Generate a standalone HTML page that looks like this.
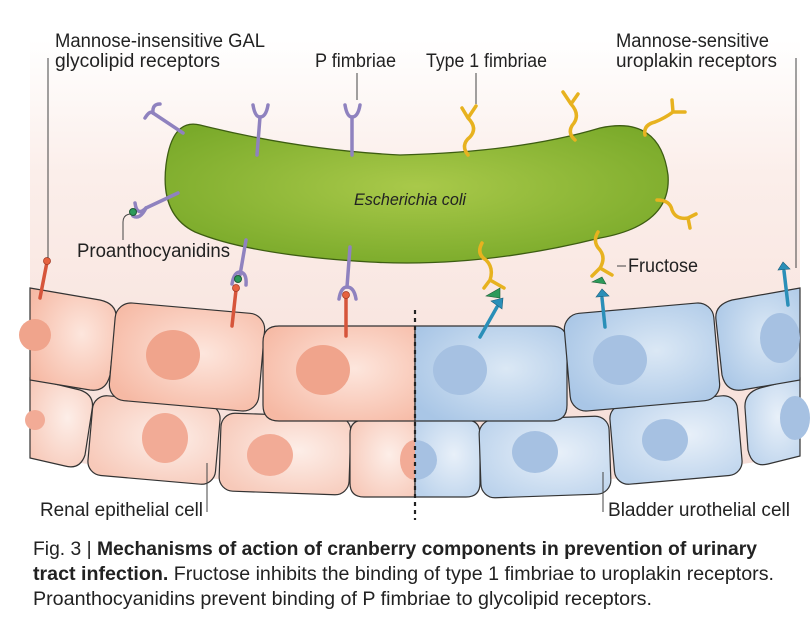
<!DOCTYPE html>
<html><head><meta charset="utf-8"><style>html,body{margin:0;padding:0;background:#fff}svg{display:block}</style></head>
<body>
<svg width="812" height="619" viewBox="0 0 812 619" xmlns="http://www.w3.org/2000/svg" font-family="Liberation Sans, sans-serif">
<defs>
<linearGradient id="bg" x1="0" y1="0" x2="0" y2="1">
<stop offset="0" stop-color="#fff"/><stop offset="0.3" stop-color="#fbeeea"/><stop offset="1" stop-color="#f6ddd6"/></linearGradient>
<radialGradient id="gr" cx="0.5" cy="0.45" r="0.6"><stop offset="0" stop-color="#a9c94a"/><stop offset="1" stop-color="#7aaa2a"/></radialGradient>
<radialGradient id="pk" cx="0.6" cy="0.45" r="0.7"><stop offset="0" stop-color="#fde6dd"/><stop offset="1" stop-color="#f6b9a4"/></radialGradient>
<radialGradient id="bl" cx="0.6" cy="0.45" r="0.7"><stop offset="0" stop-color="#dbe8f5"/><stop offset="1" stop-color="#a9c6e6"/></radialGradient>
<radialGradient id="pk2" cx="0.6" cy="0.45" r="0.7"><stop offset="0" stop-color="#fdeee8"/><stop offset="1" stop-color="#f7c9b9"/></radialGradient>
<radialGradient id="bl2" cx="0.6" cy="0.45" r="0.7"><stop offset="0" stop-color="#e8f0f9"/><stop offset="1" stop-color="#bcd3ec"/></radialGradient>
</defs>
<path d="M30 40 H800 V455 Q415 520 30 455 Z" fill="url(#bg)"/>
<!-- bottom row cells -->
<g stroke="#333" stroke-width="1.2">
<path d="M30 378 L80 390 Q95 395 92 410 L85 455 Q80 470 65 466 L30 458 Z" fill="url(#pk2)"/>
<rect x="90" y="400" width="128" height="80" rx="14" transform="rotate(5 154 440)" fill="url(#pk2)"/>
<rect x="220" y="415" width="130" height="78" rx="14" transform="rotate(2 285 454)" fill="url(#pk2)"/>
<path d="M415 420 H364 Q350 420 350 434 V483 Q350 497 364 497 H415 Z" fill="url(#pk2)"/>
<path d="M415 420 H466 Q480 420 480 434 V483 Q480 497 466 497 H415 Z" fill="url(#bl2)"/>
<rect x="480" y="418" width="130" height="78" rx="14" transform="rotate(-2 545 457)" fill="url(#bl2)"/>
<rect x="612" y="400" width="128" height="80" rx="14" transform="rotate(-5 676 440)" fill="url(#bl2)"/>
<path d="M800 378 L760 388 Q744 393 745 408 L748 450 Q752 468 768 464 L800 456 Z" fill="url(#bl2)"/>
</g>
<g fill="#f2ab96">
<circle cx="35" cy="420" r="10"/><ellipse cx="165" cy="438" rx="23" ry="25"/><ellipse cx="270" cy="455" rx="23" ry="21"/><path d="M415 440 A15 20 0 0 0 415 480 Z"/>
</g>
<g fill="#a6c1e2">
<path d="M415 440 A22 20 0 0 1 415 480 Z"/><ellipse cx="535" cy="452" rx="23" ry="21"/><ellipse cx="665" cy="440" rx="23" ry="21"/><ellipse cx="795" cy="418" rx="15" ry="22"/>
</g>
<!-- top row cells -->
<g stroke="#333" stroke-width="1.2">
<path d="M30 288 L100 300 Q118 304 116 320 L110 375 Q106 392 90 390 L30 380 Z" fill="url(#pk)"/>
<rect x="112" y="308" width="150" height="98" rx="16" transform="rotate(5 187 357)" fill="url(#pk)"/>
<path d="M415 326 H279 Q263 326 263 342 V405 Q263 421 279 421 H415 Z" fill="url(#pk)"/>
<path d="M415 326 H551 Q567 326 567 342 V405 Q567 421 551 421 H415 Z" fill="url(#bl)"/>
<rect x="567" y="308" width="150" height="98" rx="16" transform="rotate(-5 642 357)" fill="url(#bl)"/>
<path d="M800 288 L732 300 Q714 305 716 320 L722 375 Q726 392 742 390 L800 380 Z" fill="url(#bl)"/>
</g>
<g fill="#f0a48c">
<circle cx="35" cy="335" r="16"/><ellipse cx="173" cy="355" rx="27" ry="25"/><ellipse cx="323" cy="370" rx="27" ry="25"/>
</g>
<g fill="#a6c1e2">
<ellipse cx="460" cy="370" rx="27" ry="25"/><ellipse cx="620" cy="360" rx="27" ry="25"/><ellipse cx="780" cy="338" rx="20" ry="25"/>
</g>
<line x1="415" y1="310" x2="415" y2="520" stroke="#222" stroke-width="2.2" stroke-dasharray="4,4"/>
<!-- bacterium -->
<path d="M200 125 Q300 150 400 155 Q520 152 600 128 Q660 115 668 175 Q672 225 600 238 Q480 268 370 262 Q250 255 195 232 Q160 215 166 165 Q172 118 200 125 Z" fill="url(#gr)" stroke="#3d5d12" stroke-width="1.3"/>
<text x="410" y="205" font-size="17" font-style="italic" text-anchor="middle" fill="#222" textLength="112" lengthAdjust="spacingAndGlyphs">Escherichia coli</text>
<!-- P fimbriae -->
<g stroke="#8f82bf" stroke-width="3.5" fill="none" stroke-linecap="round">
<line x1="183" y1="133" x2="153" y2="113"/><path d="M145 118 Q150 110 153 113 M153 113 Q152 104 160 104"/>
<line x1="257" y1="155" x2="260" y2="117"/><path d="M253 105 Q255 117 260 117 Q266 117 268 105"/>
<line x1="352" y1="155" x2="352" y2="117"/><path d="M345 105 Q347 117 352 117 Q358 117 360 105"/>
<line x1="178" y1="193" x2="146" y2="208"/><path d="M135 203 Q137 217 146 208 M146 208 Q140 220 133 216"/>
<line x1="246" y1="240" x2="240" y2="275"/><path d="M232 284 Q234 272 240 272 Q247 273 246 285"/>
<line x1="350" y1="247" x2="347" y2="287"/><path d="M339 299 Q341 287 347 287 Q354 287 356 299"/>
</g>
<circle cx="133" cy="212" r="3.5" fill="#2c9a5a" stroke="#1d5c35"/>
<circle cx="238" cy="279" r="3.5" fill="#2c9a5a" stroke="#1d5c35"/>
<g stroke="#d6553b" stroke-width="3.5" stroke-linecap="round">
<line x1="47" y1="262" x2="40" y2="298"/><line x1="236" y1="290" x2="232" y2="326"/><line x1="346" y1="296" x2="346" y2="336"/>
</g>
<g fill="#e6623f" stroke="#a33b25" stroke-width="0.8"><circle cx="47" cy="261" r="3.5"/><circle cx="236" cy="288" r="3.5"/><circle cx="346" cy="295" r="3.5"/></g>
<g stroke="#e7b21f" stroke-width="3.5" fill="none" stroke-linecap="round">
<path d="M468 155 Q460 145 470 137 Q478 128 468 118 M468 118 L462 108 M468 118 L476 106"/>
<path d="M575 140 Q566 132 574 123 Q580 114 571 104 M571 104 L563 92 M571 104 L578 94"/>
<path d="M645 135 Q643 125 655 122 Q665 118 673 112 M673 112 L672 100 M673 112 L685 112"/>
<path d="M657 200 Q670 200 672 210 Q676 220 688 218 M688 218 L696 214 M688 218 L690 228"/>
<path d="M482 243 Q476 254 486 260 Q494 268 490 280 M490 280 L484 288 M490 280 L504 288"/>
<path d="M598 232 Q592 242 600 250 Q606 258 600 268 M600 268 L592 276 M600 268 L612 275"/>
</g>
<g fill="#2c9a5a" stroke="#1d5c35" stroke-width="0.6"><path d="M486 296 L500 288 L500 298 Z"/><path d="M592 282 L602 277 L606 284 Z"/></g>
<g stroke="#2a8fb8" stroke-width="3.5" stroke-linecap="round">
<line x1="480" y1="337" x2="497" y2="307"/><line x1="605" y1="327" x2="602" y2="298"/><line x1="788" y1="305" x2="784" y2="271"/>
</g>
<g fill="#2a8fb8" stroke="#1a5e7a" stroke-width="0.6"><path d="M491 301 L503 298 L502 309 Z"/><path d="M596 297 L602 289 L609 296 Z"/><path d="M778 270 L783 262 L790 269 Z"/></g>
<g stroke="#444" stroke-width="1" fill="none">
<line x1="48" y1="58" x2="48" y2="258"/>
<line x1="796" y1="58" x2="796" y2="268"/>
<line x1="357" y1="73" x2="357" y2="100"/>
<line x1="476" y1="73" x2="476" y2="104"/>
<line x1="123" y1="222" x2="123" y2="240"/><path d="M123 222 Q123 215 130 214"/>
<line x1="617" y1="266" x2="626" y2="266"/>
<line x1="207" y1="463" x2="207" y2="512"/>
<line x1="603" y1="472" x2="603" y2="512"/>
</g>
<g font-size="19" fill="#222" lengthAdjust="spacingAndGlyphs">
<text x="55" y="47" textLength="210" lengthAdjust="spacingAndGlyphs">Mannose-insensitive GAL</text>
<text x="55" y="67" textLength="165" lengthAdjust="spacingAndGlyphs">glycolipid receptors</text>
<text x="315" y="67" textLength="81" lengthAdjust="spacingAndGlyphs">P fimbriae</text>
<text x="426" y="67" textLength="121" lengthAdjust="spacingAndGlyphs">Type 1 fimbriae</text>
<text x="616" y="47" textLength="153" lengthAdjust="spacingAndGlyphs">Mannose-sensitive</text>
<text x="616" y="67" textLength="161" lengthAdjust="spacingAndGlyphs">uroplakin receptors</text>
<text x="77" y="257" textLength="153" lengthAdjust="spacingAndGlyphs">Proanthocyanidins</text>
<text x="628" y="272" textLength="70" lengthAdjust="spacingAndGlyphs">Fructose</text>
<text x="40" y="516" textLength="163" lengthAdjust="spacingAndGlyphs">Renal epithelial cell</text>
<text x="608" y="516" textLength="182" lengthAdjust="spacingAndGlyphs">Bladder urothelial cell</text>
</g>
<g font-size="19.5" fill="#222">
<text x="33" y="555" textLength="724" lengthAdjust="spacingAndGlyphs">Fig. 3 | <tspan font-weight="bold">Mechanisms of action of cranberry components in prevention of urinary</tspan></text>
<text x="33" y="580" textLength="741" lengthAdjust="spacingAndGlyphs"><tspan font-weight="bold">tract infection.</tspan> Fructose inhibits the binding of type 1 fimbriae to uroplakin receptors.</text>
<text x="33" y="605" textLength="619" lengthAdjust="spacingAndGlyphs">Proanthocyanidins prevent binding of P fimbriae to glycolipid receptors.</text>
</g>
</svg>
</body></html>
